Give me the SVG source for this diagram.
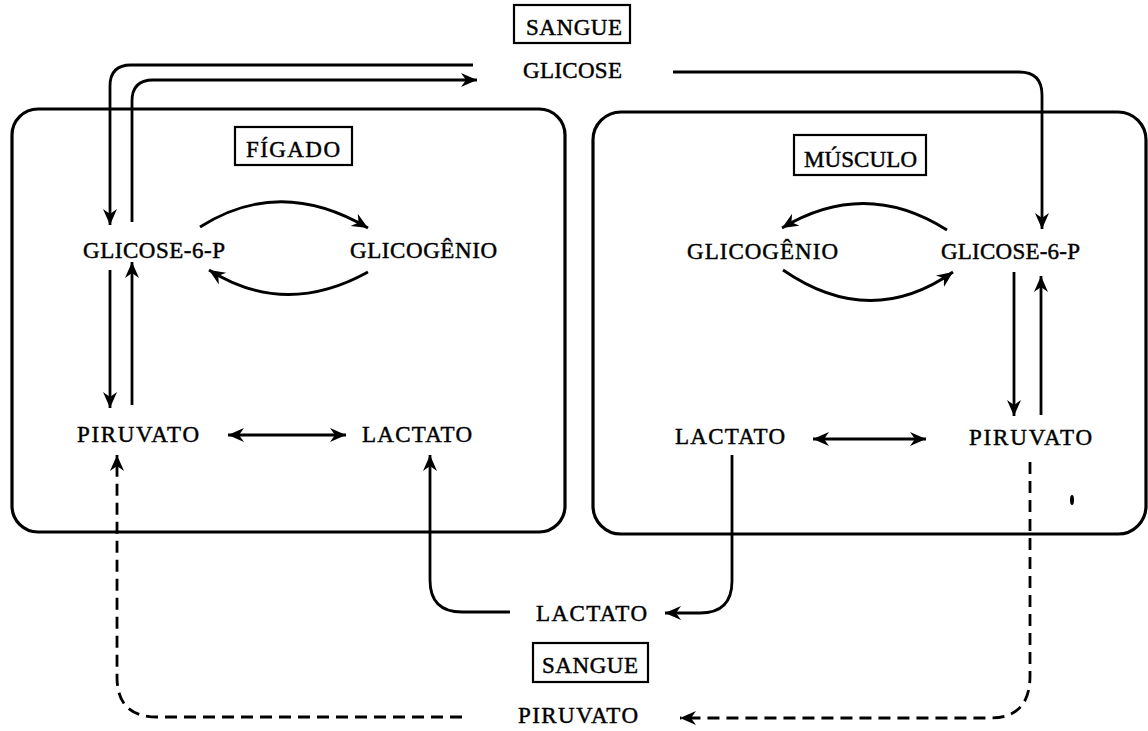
<svg xmlns="http://www.w3.org/2000/svg" width="1148" height="731" viewBox="0 0 1148 731">
<style>
  text { font-family: "Liberation Serif", "DejaVu Serif", serif; font-size: 23px; fill: #000; stroke: #000; stroke-width: 0.45px; }
  .compart { fill: none; stroke: #000; stroke-width: 3.2; }
  .tag { fill: none; stroke: #000; stroke-width: 2.2; }
  .conn { fill: none; stroke: #000; stroke-width: 2.8; }
  .dash { stroke-dasharray: 12 7; }
</style>
<defs>
  <marker id="arr" markerUnits="userSpaceOnUse" markerWidth="18" markerHeight="16" refX="16" refY="7" orient="auto-start-reverse">
    <path d="M0,0 L16,7 L0,14 L5,7 z" fill="#000"/>
  </marker>
</defs>
<rect width="1148" height="731" fill="#fff"/>

<g id="figado">
  <rect class="compart" x="12" y="109" width="553" height="423" rx="26" ry="26"/>
  <rect class="tag" x="235" y="127" width="117" height="38"/>
  <text x="246" y="157" textLength="94" lengthAdjust="spacing">FÍGADO</text>
</g>
<g id="musculo">
  <rect class="compart" x="593" y="112" width="553" height="422" rx="28" ry="28"/>
  <rect class="tag" x="794" y="135" width="132" height="40"/>
  <text x="804" y="167" textLength="113" lengthAdjust="spacing">MÚSCULO</text>
</g>
<g id="sangue-top">
  <rect class="tag" x="514" y="5" width="116" height="38"/>
  <text x="526" y="35" textLength="96" lengthAdjust="spacing">SANGUE</text>
</g>
<g id="glicose-sangue">
  <text x="523" y="78" textLength="99" lengthAdjust="spacing">GLICOSE</text>
</g>
<g id="g6p-figado">
  <text x="83" y="258" textLength="142" lengthAdjust="spacing">GLICOSE-6-P</text>
</g>
<g id="glicogenio-figado">
  <text x="350" y="258" textLength="147" lengthAdjust="spacing">GLICOGÊNIO</text>
</g>
<g id="piruvato-figado">
  <text x="77" y="442" textLength="122" lengthAdjust="spacing">PIRUVATO</text>
</g>
<g id="lactato-figado">
  <text x="362" y="442" textLength="110" lengthAdjust="spacing">LACTATO</text>
</g>
<g id="glicogenio-musculo">
  <text x="687" y="259" textLength="151" lengthAdjust="spacing">GLICOGÊNIO</text>
</g>
<g id="g6p-musculo">
  <text x="941" y="259" textLength="139" lengthAdjust="spacing">GLICOSE-6-P</text>
</g>
<g id="lactato-musculo">
  <text x="675" y="444" textLength="110" lengthAdjust="spacing">LACTATO</text>
</g>
<g id="piruvato-musculo">
  <text x="969" y="445" textLength="123" lengthAdjust="spacing">PIRUVATO</text>
</g>
<g id="lactato-sangue">
  <text x="536" y="621" textLength="111" lengthAdjust="spacing">LACTATO</text>
</g>
<g id="sangue-bottom">
  <rect class="tag" x="533" y="643" width="115" height="39"/>
  <text x="542" y="673" textLength="96" lengthAdjust="spacing">SANGUE</text>
</g>
<g id="piruvato-sangue">
  <text x="518" y="723" textLength="120" lengthAdjust="spacing">PIRUVATO</text>
</g>

<g id="connectors">
  <path class="conn" d="M132,222 V101 Q132,80 153,80 H477" marker-end="url(#arr)"/>
  <path class="conn" d="M473,65 H131 Q110,65 110,86 V225" marker-end="url(#arr)"/>
  <path class="conn" d="M673,72 H1019 Q1042,72 1042,95 V229" marker-end="url(#arr)"/>
  <path class="conn" d="M200,227 Q280,176 368,228" marker-end="url(#arr)"/>
  <path class="conn" d="M368,272 Q285,318 209,270" marker-end="url(#arr)"/>
  <path class="conn" d="M110,270 V408" marker-end="url(#arr)"/>
  <path class="conn" d="M132,405 V262" marker-end="url(#arr)"/>
  <path class="conn" d="M228,435 H346" marker-start="url(#arr)" marker-end="url(#arr)"/>
  <path class="conn" d="M510,612 H462 Q430,612 430,580 V455" marker-end="url(#arr)"/>
  <path class="conn" d="M732,455 V581 Q732,613 700,613 H665" marker-end="url(#arr)"/>
  <path class="conn dash" d="M462,717 H157 Q117,717 117,677 V455" marker-end="url(#arr)"/>
  <path class="conn dash" d="M1030,462 V676 Q1030,718 990,718 H680" marker-end="url(#arr)"/>
  <path class="conn" d="M947,230 Q865,178 782,228" marker-end="url(#arr)"/>
  <path class="conn" d="M783,270 Q870,330 953,272" marker-end="url(#arr)"/>
  <path class="conn" d="M1014,272 V416" marker-end="url(#arr)"/>
  <path class="conn" d="M1041,415 V276" marker-end="url(#arr)"/>
  <path class="conn" d="M813,439 H926" marker-start="url(#arr)" marker-end="url(#arr)"/>
</g>
<ellipse cx="1072" cy="500" rx="2" ry="5" fill="#000"/>
</svg>
